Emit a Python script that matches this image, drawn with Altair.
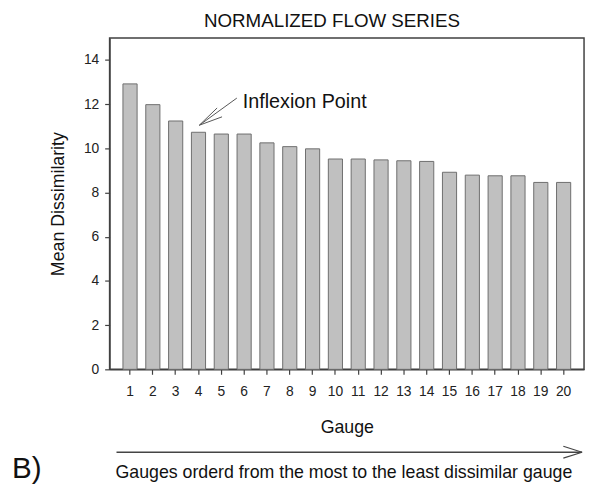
import altair as alt
import pandas as pd

gauges = [str(i) for i in range(1, 21)]
dissimilarity = [12.92, 11.98, 11.24, 10.73, 10.65, 10.65, 10.25, 10.08, 9.98, 9.52,
                 9.52, 9.48, 9.44, 9.41, 8.92, 8.79, 8.76, 8.76, 8.46, 8.46]
y_ticks = [0, 2, 4, 6, 8, 10, 12, 14]

title_text = "NORMALIZED FLOW SERIES"
annotation_text = "Inflexion Point"
caption_text = "Gauges orderd from the most to the least dissimilar gauge"
panel_text = "B)"

FONT = "Liberation Sans"
W, H = 481, 336

df = pd.DataFrame({"Gauge": gauges, "Mean Dissimilarity": dissimilarity})
one = pd.DataFrame({"k": [0]})

bars = alt.Chart(df).mark_bar(
    color="#c0c0c0", stroke="#6e6e6e", strokeWidth=1
).encode(
    x=alt.X("Gauge:O", sort=None,
            scale=alt.Scale(paddingInner=0.38, paddingOuter=0.585),
            axis=alt.Axis(title="Gauge", labelAngle=0, labelFontSize=14,
                          titleFontSize=18, titleFontWeight="normal",
                          labelPadding=11, titlePadding=20, tickSize=5,
                          labelColor="#222222", titleColor="#111111")),
    y=alt.Y("Mean Dissimilarity:Q",
            scale=alt.Scale(domain=[0, 15], nice=False),
            axis=alt.Axis(values=y_ticks, title="Mean Dissimilarity",
                          labelFontSize=14, titleFontSize=18,
                          titleFontWeight="normal", tickSize=5,
                          labelPadding=6, titlePadding=16,
                          labelColor="#222222", titleColor="#111111")),
)

def seg(x1, y1, x2, y2, w=1.0, c="#555555"):
    return alt.Chart(one).mark_rule(color=c, strokeWidth=w).encode(
        x=alt.value(x1), y=alt.value(y1), x2=alt.value(x2), y2=alt.value(y2))

def txt(s, x, y, size, align="left", baseline="alphabetic"):
    return alt.Chart(one).mark_text(
        text=s, font=FONT, fontSize=size, align=align, baseline=baseline,
        color="#111111").encode(x=alt.value(x), y=alt.value(y))

# inflexion arrow (plot pixel coords)
arrow1 = [seg(91, 88.5, 129, 61), seg(91, 88.5, 109, 71), seg(91, 88.5, 114, 80)]
# bottom arrow
arrow2 = [seg(7, 420, 479, 420, 1.5, "#444444"),
          seg(460, 414, 479, 420, 1.2, "#444444"),
          seg(460, 426, 479, 420, 1.2, "#444444")]

texts = [
    txt(title_text, 225.5, -11, 19, align="center"),
    txt(annotation_text, 135, 71, 20),
    txt(caption_text, 237.5, 446, 18, align="center"),
    txt(panel_text, -99, 446, 30),
]

chart = alt.layer(bars, *arrow1, *arrow2, *texts).properties(
    width=W, height=H,
    autosize=alt.AutoSizeParams(type="none"),
    padding={"left": 103, "top": 27, "right": 3, "bottom": 120},
).configure(
    font=FONT,
).configure_view(
    stroke="#404040", strokeWidth=1.5
).configure_axis(
    grid=False, domainColor="#404040", tickColor="#404040",
    domainWidth=1.2, tickWidth=1.2, labelFont=FONT, titleFont=FONT,
)

chart.save("out.html", embed_options={"renderer": "svg", "actions": False})
